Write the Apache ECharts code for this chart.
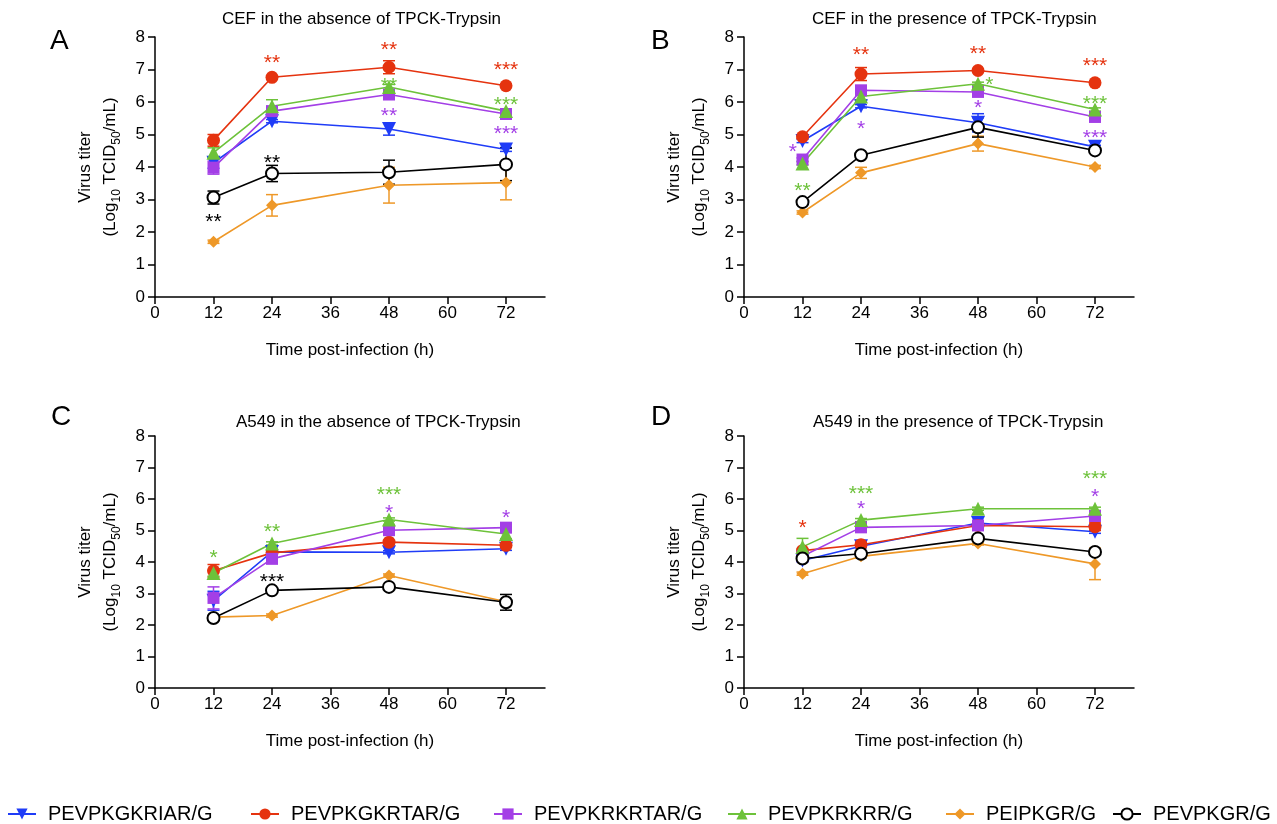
<!DOCTYPE html>
<html>
<head>
<meta charset="utf-8">
<title>Virus titer</title>
<script src="https://cdn.jsdelivr.net/npm/echarts@6.0.0/dist/echarts.min.js"></script>
<style>
  html, body { margin: 0; padding: 0; background: #fff; }
  #chart { width: 1277px; height: 824px; }
</style>
</head>
<body>
<div id="chart"></div>
<script>
// 时间点 / 坐标刻度
var hours = [12, 24, 48, 72];
var xTicks = [0, 12, 24, 36, 48, 60, 72];

var seriesNames = ['PEVPKGKRIAR/G', 'PEVPKGKRTAR/G', 'PEVPKRKRTAR/G', 'PEVPKRKRR/G', 'PEIPKGR/G', 'PEVPKGR/G'];
var seriesColors = ['#1f3cf7', '#e5330f', '#a33fe6', '#6dc23a', '#ee9828', '#000000'];
var seriesSymbols = ['triangle', 'circle', 'rect', 'triangle', 'diamond', 'emptyCircle'];
var symbolSizes = [14, 13, 12, 14, 12, 12];

var panelTitles = ['CEF in the absence of TPCK-Trypsin', 'CEF in the presence of TPCK-Trypsin',
                   'A549 in the absence of TPCK-Trypsin', 'A549 in the presence of TPCK-Trypsin'];
var panelLetters = ['A', 'B', 'C', 'D'];

// 每组顺序同 seriesNames
var valuesA = [
  [4.13, 5.41, 5.17, 4.54],
  [4.82, 6.76, 7.07, 6.50],
  [3.98, 5.72, 6.23, 5.63],
  [4.44, 5.87, 6.46, 5.72],
  [1.70, 2.82, 3.44, 3.52],
  [3.06, 3.80, 3.84, 4.08]
];
var errorsA = [
  [0.17, 0.05, 0.19, 0.06],
  [0.18, 0.05, 0.20, 0.05],
  [0.20, 0.10, 0.05, 0.05],
  [0.15, 0.20, 0.08, 0.05],
  [0.05, 0.33, 0.55, 0.53],
  [0.20, 0.25, 0.37, 0.50]
];
var valuesB = [
  [4.80, 5.87, 5.36, 4.62],
  [4.93, 6.86, 6.97, 6.59],
  [4.23, 6.36, 6.31, 5.54],
  [4.11, 6.17, 6.56, 5.77],
  [2.60, 3.82, 4.72, 4.00],
  [2.92, 4.36, 5.22, 4.51]
];
var errorsB = [
  [0.05, 0.05, 0.28, 0.05],
  [0.05, 0.20, 0.05, 0.05],
  [0.05, 0.10, 0.10, 0.05],
  [0.05, 0.10, 0.05, 0.05],
  [0.05, 0.17, 0.23, 0.05],
  [0.05, 0.05, 0.30, 0.05]
];
var valuesC = [
  [2.77, 4.32, 4.31, 4.42],
  [3.72, 4.29, 4.63, 4.53],
  [2.86, 4.10, 5.01, 5.09],
  [3.65, 4.59, 5.35, 4.89],
  [2.25, 2.30, 3.57, 2.74],
  [2.22, 3.10, 3.21, 2.72]
];
var errorsC = [
  [0.30, 0.05, 0.05, 0.05],
  [0.20, 0.05, 0.05, 0.05],
  [0.35, 0.05, 0.05, 0.10],
  [0.10, 0.05, 0.05, 0.15],
  [0.05, 0.05, 0.05, 0.05],
  [0.05, 0.05, 0.05, 0.25]
];
var valuesD = [
  [4.05, 4.50, 5.24, 4.96],
  [4.36, 4.55, 5.16, 5.12],
  [4.18, 5.10, 5.16, 5.46],
  [4.48, 5.33, 5.69, 5.69],
  [3.63, 4.18, 4.59, 3.94],
  [4.11, 4.26, 4.75, 4.32]
];
var errorsD = [
  [0.05, 0.05, 0.05, 0.05],
  [0.05, 0.05, 0.10, 0.12],
  [0.05, 0.05, 0.05, 0.05],
  [0.27, 0.05, 0.05, 0.05],
  [0.05, 0.05, 0.05, 0.50],
  [0.05, 0.05, 0.05, 0.05]
];

// 显著性标记: [时间, 位置, 文本, 系列序号]
var starsA = [[24, 7.35, '**', 1], [48, 7.76, '**', 1], [72, 7.12, '***', 1],
              [48, 6.63, '**', 3], [72, 6.07, '***', 3],
              [48, 5.72, '**', 2], [72, 5.15, '***', 2],
              [24, 4.28, '**', 5], [12, 2.46, '**', 5]];
var starsB = [[24, 7.59, '**', 1], [48, 7.63, '**', 1], [72, 7.25, '***', 1],
              [50.3, 6.66, '*', 3], [72, 6.10, '***', 3], [12, 3.40, '**', 3],
              [10, 4.62, '*', 2], [24, 5.31, '*', 2], [48, 5.95, '*', 2], [72, 5.03, '***', 2]];
var starsC = [[12, 4.27, '*', 3], [24, 5.12, '**', 3], [48, 6.28, '***', 3],
              [48, 5.72, '*', 2], [72, 5.56, '*', 2], [24, 3.52, '***', 5]];
var starsD = [[12, 5.22, '*', 1], [24, 6.31, '***', 3], [72, 6.78, '***', 3],
              [24, 5.83, '*', 2], [72, 6.22, '*', 2]];

var panelValues = [valuesA, valuesB, valuesC, valuesD];
var panelErrors = [errorsA, errorsB, errorsC, errorsD];
var panelStars = [starsA, starsB, starsC, starsD];

var FONT = 'Liberation Sans, Arial, sans-serif';
var grids = [
  {left: 155, top: 37, width: 390, height: 260},
  {left: 744, top: 37, width: 390, height: 260},
  {left: 155, top: 436, width: 390, height: 252},
  {left: 744, top: 436, width: 390, height: 252}
];
var titlePos = [[222, 11], [812, 11], [236, 414], [813, 414]];
var letterPos = [[50, 27], [651, 27], [51, 403], [651, 403]];
var legendLeft = [7, 250, 493, 727, 945, 1112];

var myChart = echarts.init(document.getElementById('chart'));

var xAxes = [], yAxes = [], series = [], titles = [];
for (var p = 0; p < 4; p++) {
  xAxes.push({
    type: 'value', gridIndex: p, min: 0, max: 80, interval: 12,
    name: 'Time post-infection (h)', nameLocation: 'middle', nameGap: 45,
    nameTextStyle: {color: '#000', fontSize: 17, fontFamily: FONT},
    axisLine: {lineStyle: {color: '#000', width: 1.5}},
    axisTick: {length: 7, lineStyle: {color: '#000', width: 1.5}, customValues: xTicks},
    axisLabel: {color: '#000', fontSize: 17, fontFamily: FONT, margin: 8, customValues: xTicks},
    splitLine: {show: false}
  });
  yAxes.push({
    type: 'value', gridIndex: p, min: 0, max: 8, interval: 1,
    name: '{a|Virus titer}\n{a|(Log}{s|10}{a| TCID}{s|50}{a|/mL)}',
    nameLocation: 'middle', nameRotate: 90, nameGap: 32,
    nameTextStyle: {
      color: '#000', fontFamily: FONT,
      rich: {
        a: {fontSize: 17, lineHeight: 25, fontFamily: FONT, color: '#000'},
        s: {fontSize: 12, lineHeight: 14, verticalAlign: 'bottom', fontFamily: FONT, color: '#000'}
      }
    },
    axisLine: {show: true, lineStyle: {color: '#000', width: 1.5}},
    axisTick: {show: true, length: 7, lineStyle: {color: '#000', width: 1.5}},
    axisLabel: {color: '#000', fontSize: 17, fontFamily: FONT, margin: 10},
    splitLine: {show: false}
  });
  titles.push({
    text: panelTitles[p], left: titlePos[p][0], top: titlePos[p][1], padding: 0,
    textStyle: {color: '#000', fontSize: 17, fontWeight: 'normal', fontFamily: FONT}
  });
  titles.push({
    text: panelLetters[p], left: letterPos[p][0], top: letterPos[p][1], padding: 0,
    textStyle: {color: '#000', fontSize: 28, fontWeight: 'normal', fontFamily: FONT}
  });

  // 折线
  for (var s = 0; s < seriesNames.length; s++) {
    series.push({
      name: seriesNames[s], type: 'line', xAxisIndex: p, yAxisIndex: p,
      data: hours.map(function (h, i) { return [h, panelValues[p][s][i]]; }),
      symbol: seriesSymbols[s], symbolSize: symbolSizes[s],
      symbolRotate: s === 0 ? 180 : 0,
      lineStyle: {color: seriesColors[s], width: 1.6},
      itemStyle: s === 5 ? {color: '#000', borderColor: '#000', borderWidth: 1.6} : {color: seriesColors[s]},
      showSymbol: true, animation: false, z: 3
    });
  }
}

// 误差线
for (var p2 = 0; p2 < 4; p2++) {
  for (var s2 = 0; s2 < seriesNames.length; s2++) {
    (function (p, s) {
      series.push({
        type: 'custom', xAxisIndex: p, yAxisIndex: p, z: 2, silent: true,
        data: hours.map(function (h, i) { return [h, panelValues[p][s][i], panelErrors[p][s][i]]; }),
        renderItem: function (params, api) {
          var x = api.value(0), y = api.value(1), e = api.value(2);
          var t = api.coord([x, y + e]), b = api.coord([x, y - e]);
          var st = {stroke: seriesColors[s], lineWidth: 1.5};
          return {type: 'group', children: [
            {type: 'line', shape: {x1: t[0], y1: t[1], x2: b[0], y2: b[1]}, style: st},
            {type: 'line', shape: {x1: t[0] - 6, y1: t[1], x2: t[0] + 6, y2: t[1]}, style: st},
            {type: 'line', shape: {x1: b[0] - 6, y1: b[1], x2: b[0] + 6, y2: b[1]}, style: st}
          ]};
        },
        animation: false
      });
    })(p2, s2);
  }
  // 星号
  (function (p) {
    series.push({
      type: 'custom', xAxisIndex: p, yAxisIndex: p, z: 4, silent: true,
      data: panelStars[p].map(function (d) { return [d[0], d[1], d[3]]; }),
      renderItem: function (params, api) {
        var c = api.coord([api.value(0), api.value(1)]);
        var d = panelStars[p][params.dataIndex];
        return {type: 'text', style: {
          text: d[2], x: c[0], y: c[1] + 5, fill: seriesColors[d[3]],
          font: '21px ' + FONT, align: 'center', verticalAlign: 'middle'
        }};
      },
      animation: false
    });
  })(p2);
}

var legends = seriesNames.map(function (n, i) {
  return {
    data: [n], left: legendLeft[i], top: 804, padding: 0, itemWidth: 28, itemHeight: 14,
    textStyle: {color: '#000', fontSize: 20, fontFamily: FONT, padding: [0, 0, 0, 7]},
    selectedMode: false
  };
});

myChart.setOption({
  backgroundColor: '#fff',
  animation: false,
  textStyle: {fontFamily: FONT},
  title: titles,
  legend: legends,
  grid: grids,
  xAxis: xAxes,
  yAxis: yAxes,
  series: series
});
</script>
</body>
</html>
